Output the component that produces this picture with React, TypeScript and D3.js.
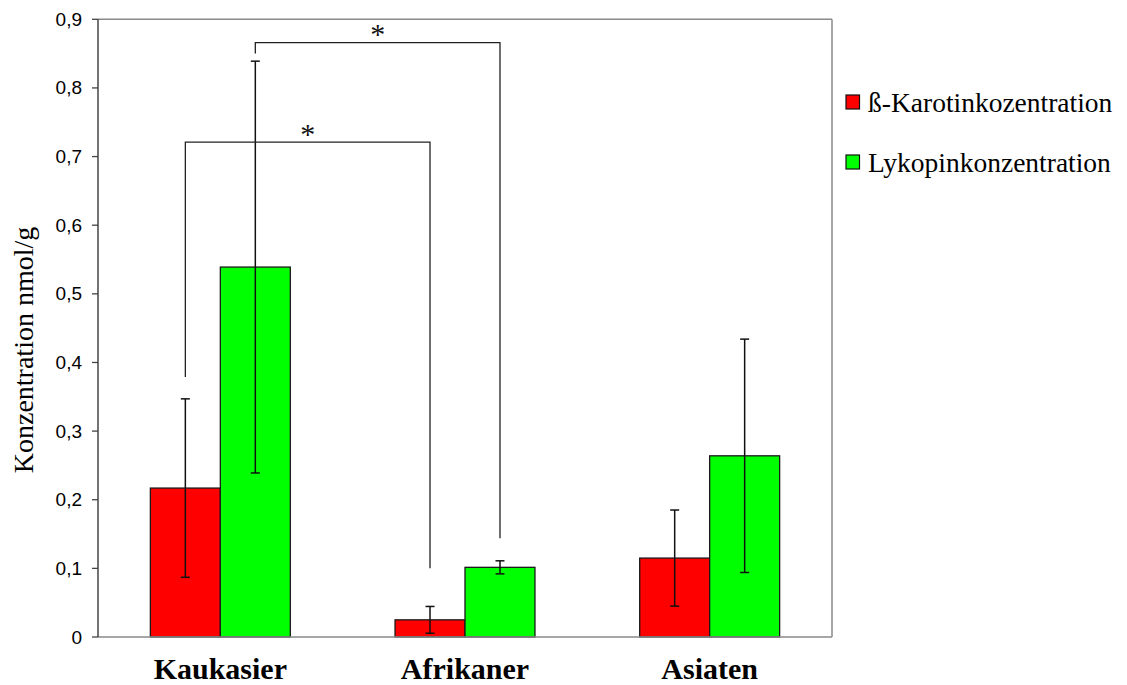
import React from "react"
import * as d3 from "d3"

// ── Data ───────────────────────────────────────────────────────────────────────

const categories = ["Kaukasier", "Afrikaner", "Asiaten"]
const seriesNames = ["ß-Karotinkozentration", "Lykopinkonzentration"]
const seriesColors = ["#ff0000", "#00ff00"]

const betaCarotene = [0.217, 0.025, 0.115]
const betaCaroteneSd = [0.13, 0.0195, 0.07]
const lycopene = [0.539, 0.1015, 0.264]
const lycopeneSd = [0.3, 0.0095, 0.17]

const yTickValues = [0, 0.1, 0.2, 0.3, 0.4, 0.5, 0.6, 0.7, 0.8, 0.9]
const yTickLabels = ["0", "0,1", "0,2", "0,3", "0,4", "0,5", "0,6", "0,7", "0,8", "0,9"]

// significance brackets: [category, series] at each end, bracket top, end heights
const brackets = [
  { from: [0, 0], to: [1, 0], top: 0.721, fromEnd: 0.379, toEnd: 0.1 },
  { from: [0, 1], to: [1, 1], top: 0.866, fromEnd: 0.85, toEnd: 0.144 },
]

const W = 1127
const H = 685
const plot = { left: 98, right: 832, top: 19.3, bottom: 637 }

export default function App() {
  const x0 = d3
    .scaleBand<string>()
    .domain(categories)
    .range([plot.left, plot.right])
    .padding(0)
  const groupW = x0.bandwidth() * 0.572
  const x1 = d3
    .scaleBand<string>()
    .domain(seriesNames)
    .range([0, groupW])
    .padding(0)
  const y = d3.scaleLinear().domain([0, 0.9]).range([plot.bottom, plot.top])

  const values = [betaCarotene, lycopene]
  const sds = [betaCaroteneSd, lycopeneSd]

  const barX = (ci: number, si: number) =>
    (x0(categories[ci]) ?? 0) + (x0.bandwidth() - groupW) / 2 + (x1(seriesNames[si]) ?? 0)
  const barCx = (ci: number, si: number) => barX(ci, si) + x1.bandwidth() / 2

  const serif = "'Liberation Serif', 'Times New Roman', serif"
  const sans = "'Liberation Sans', Arial, sans-serif"

  return (
    <svg
      width={W}
      height={H}
      style={{ position: "absolute", left: 0, top: 0, background: "#fff" }}
    >
      {/* Frame */}
      <line x1={plot.left} x2={plot.right} y1={plot.top} y2={plot.top} stroke="#8a8a8a" strokeWidth={1.5} />
      <line x1={plot.right} x2={plot.right} y1={plot.top} y2={plot.bottom} stroke="#8a8a8a" strokeWidth={1.5} />

      {/* Bars */}
      {seriesNames.map((s, si) =>
        categories.map((c, ci) => (
          <rect
            key={`${s}-${c}`}
            x={barX(ci, si)}
            y={y(values[si][ci])}
            width={x1.bandwidth()}
            height={plot.bottom - y(values[si][ci])}
            fill={seriesColors[si]}
            stroke="#1a1a1a"
            strokeWidth={1.3}
          />
        )),
      )}

      {/* Error bars */}
      {seriesNames.map((s, si) =>
        categories.map((c, ci) => {
          const cx = barCx(ci, si)
          const hi = y(values[si][ci] + sds[si][ci])
          const lo = y(Math.max(0, values[si][ci] - sds[si][ci]))
          return (
            <g key={`err-${s}-${c}`} stroke="#111" strokeWidth={1.5}>
              <line x1={cx} x2={cx} y1={hi} y2={lo} />
              <line x1={cx - 4.5} x2={cx + 4.5} y1={hi} y2={hi} />
              <line x1={cx - 4.5} x2={cx + 4.5} y1={lo} y2={lo} />
            </g>
          )
        }),
      )}

      {/* Significance brackets */}
      {brackets.map((b, i) => {
        const xa = barCx(b.from[0], b.from[1])
        const xb = barCx(b.to[0], b.to[1])
        const yt = y(b.top)
        return (
          <g key={`br-${i}`}>
            <path
              d={`M${xa},${y(b.fromEnd)}V${yt}H${xb}V${y(b.toEnd)}`}
              fill="none"
              stroke="#222"
              strokeWidth={1.3}
            />
            <text
              x={(xa + xb) / 2}
              y={yt + 1.5}
              textAnchor="middle"
              fontFamily={serif}
              fontSize={30}
              fill="#111"
            >
              *
            </text>
          </g>
        )
      })}

      {/* Axes */}
      <line x1={plot.left} x2={plot.right} y1={plot.bottom} y2={plot.bottom} stroke="#8a8a8a" strokeWidth={1.5} />
      <line x1={plot.left} x2={plot.left} y1={plot.top} y2={plot.bottom} stroke="#444" strokeWidth={1.5} />
      {yTickValues.map((t, i) => (
        <g key={`yt-${t}`} transform={`translate(0,${y(t)})`}>
          <line x1={plot.left - 6} x2={plot.left} stroke="#444" strokeWidth={1.3} />
          <text
            x={82}
            textAnchor="end"
            dominantBaseline="central"
            fontFamily={sans}
            fontSize={19}
            fill="#000"
          >
            {yTickLabels[i]}
          </text>
        </g>
      ))}

      <text
        transform={`translate(33,350) rotate(-90)`}
        textAnchor="middle"
        fontFamily={serif}
        fontSize={28}
        fill="#000"
      >
        Konzentration nmol/g
      </text>

      {/* Category labels */}
      {categories.map(c => (
        <text
          key={`xl-${c}`}
          x={(x0(c) ?? 0) + x0.bandwidth() / 2}
          y={679}
          textAnchor="middle"
          fontFamily={serif}
          fontWeight="bold"
          fontSize={30}
          fill="#000"
        >
          {c}
        </text>
      ))}

      {/* Legend */}
      {seriesNames.map((s, si) => (
        <g key={`lg-${s}`} transform={`translate(846,${95 + si * 60})`}>
          <rect width={13.5} height={14} fill={seriesColors[si]} stroke="#111" strokeWidth={1.2} />
          <text x={22} y={7} dominantBaseline="central" fontFamily={serif} fontSize={27.5} fill="#000">
            {s}
          </text>
        </g>
      ))}
    </svg>
  )
}
